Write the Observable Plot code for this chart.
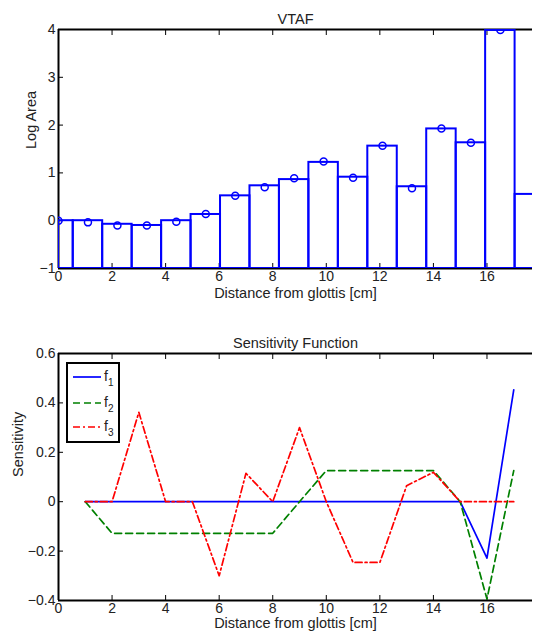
<!DOCTYPE html>
<html><head><meta charset="utf-8">
<script src="https://cdn.jsdelivr.net/npm/d3@7"></script>
<script src="https://cdn.jsdelivr.net/npm/@observablehq/plot@0.6"></script>
<style>
html,body{margin:0;padding:0;background:#fff;overflow:hidden}
#wrap{position:relative;width:533px;height:639px;font-family:"Liberation Sans",Arial,sans-serif}
.chart{position:absolute;left:0}
#legend{position:absolute;left:66px;top:362px}
</style></head><body>
<div id="wrap"><div id="top" class="chart" style="top:0"></div><div id="bottom" class="chart" style="top:320px"></div><div id="legend"></div></div>
<script>
// ---- VTAF data ----
const sectionCenters = [0, 1.1, 2.2, 3.3, 4.4, 5.5, 6.6, 7.7, 8.8, 9.9, 11.0, 12.1, 13.2, 14.3, 15.4, 16.5];
const sampledLogArea = [0, -0.035, -0.1, -0.1, -0.02, 0.14, 0.52, 0.70, 0.89, 1.24, 0.90, 1.57, 0.68, 1.93, 1.63, 3.99];
const barLeft  = [0, 0.55, 1.65, 2.75, 3.85, 4.95, 6.05, 7.15, 8.25, 9.35, 10.45, 11.55, 12.65, 13.75, 14.85, 15.95, 17.05];
const barRight = [0.55, 1.65, 2.75, 3.85, 4.95, 6.05, 7.15, 8.25, 9.35, 10.45, 11.55, 12.65, 13.75, 14.85, 15.95, 17.05, 18.15];
const barLogArea = [0, 0, -0.075, -0.1, 0, 0.13, 0.52, 0.73, 0.86, 1.22, 0.91, 1.56, 0.71, 1.92, 1.63, 3.98, 0.55];
const distanceTicks = [0, 2, 4, 6, 8, 10, 12, 14, 16];
const logAreaTicks = [-1, 0, 1, 2, 3, 4];

// ---- Sensitivity data ----
const positions = [1, 2, 3, 4, 5, 6, 7, 8, 9, 10, 11, 12, 13, 14, 15, 16, 17];
const f1 = [0, 0, 0, 0, 0, 0, 0, 0, 0, 0, 0, 0, 0, 0, 0, -0.228, 0.453];
const f2 = [0, -0.128, -0.128, -0.128, -0.128, -0.128, -0.128, -0.128, 0, 0.126, 0.126, 0.126, 0.126, 0.126, 0, -0.394, 0.126];
const f3 = [0, 0, 0.362, 0, 0, -0.3, 0.115, 0, 0.30, 0, -0.246, -0.246, 0.065, 0.119, 0, 0, 0];
const sensitivityTicks = [-0.4, -0.2, 0, 0.2, 0.4, 0.6];
const seriesNames = ["1", "2", "3"];
const seriesColors = ["#0000ff", "#008000", "#ff0000"];
const seriesDash = [null, "7,4", "7,3,2,3"];

const bars = barLeft.map((l, i) => ({x1: l, x2: barRight[i], v: barLogArea[i]}));
const samples = sectionCenters.map((x, i) => ({x, v: sampledLogArea[i]}));
const fmt = d3.format("");
const textColor = "#222";
const blank = () => "";

const topChart = Plot.plot({
  width: 533, height: 310,
  marginTop: 29, marginBottom: 42, marginLeft: 58, marginRight: 1,
  x: {domain: [0, 17.7], axis: null},
  y: {domain: [-1, 4], axis: null},
  style: {fontFamily: "Liberation Sans, Arial, sans-serif", fontSize: "14px", color: textColor, background: "white", overflow: "visible"},
  marks: [
    Plot.ruleX([0], {stroke: "#000", strokeWidth: 2}),
    Plot.ruleY([4], {stroke: "#000", strokeWidth: 2}),
    Plot.ruleY([-1], {stroke: "#000", strokeWidth: 2}),
    Plot.axisX(distanceTicks, {anchor: "bottom", tickSize: -5, tickFormat: blank, label: null, stroke: "#000"}),
    Plot.axisX(distanceTicks, {anchor: "top", tickSize: -5, tickFormat: blank, label: null, stroke: "#000"}),
    Plot.axisY(logAreaTicks, {anchor: "left", tickSize: -5, tickFormat: blank, label: null, stroke: "#000"}),
    Plot.rect(bars, {x1: "x1", x2: "x2", y1: -1, y2: "v", stroke: "#0000ff", fill: "none", strokeWidth: 2, clip: true}),
    Plot.dot(samples, {x: "x", y: "v", r: 3.5, stroke: "#0000ff", strokeWidth: 1.5, clip: true}),
    Plot.axisX(distanceTicks, {anchor: "bottom", tickSize: 0, tickPadding: 3, label: null, fill: textColor, tickFormat: fmt}),
    Plot.axisY(logAreaTicks, {anchor: "left", tickSize: 0, tickPadding: 3, label: null, fill: textColor, tickFormat: fmt}),
    Plot.text(["VTAF"], {text: d => d, frameAnchor: "top", dy: -16, fontSize: 14.5, fill: textColor}),
    Plot.text(["Distance from glottis [cm]"], {text: d => d, frameAnchor: "bottom", dy: 29, fontSize: 14.5, fill: textColor}),
    Plot.text(["Log Area"], {text: d => d, frameAnchor: "left", dx: -27, rotate: -90, fontSize: 14.5, fill: textColor})
  ]
});
document.getElementById("top").appendChild(topChart);

const series = [f1, f2, f3].flatMap((vals, k) => vals.map((v, i) => ({x: positions[i], v, k})));

const bottomChart = Plot.plot({
  width: 533, height: 319,
  marginTop: 33, marginBottom: 39, marginLeft: 58, marginRight: 1,
  x: {domain: [0, 17.7], axis: null},
  y: {domain: [-0.4, 0.6], axis: null},
  style: {fontFamily: "Liberation Sans, Arial, sans-serif", fontSize: "14px", color: textColor, background: "white", overflow: "visible"},
  marks: [
    Plot.ruleX([0], {stroke: "#000", strokeWidth: 2}),
    Plot.ruleY([0.6], {stroke: "#000", strokeWidth: 2}),
    Plot.ruleY([-0.4], {stroke: "#000", strokeWidth: 2}),
    Plot.axisX(distanceTicks, {anchor: "bottom", tickSize: -5, tickFormat: blank, label: null, stroke: "#000"}),
    Plot.axisX(distanceTicks, {anchor: "top", tickSize: -5, tickFormat: blank, label: null, stroke: "#000"}),
    Plot.axisY(sensitivityTicks, {anchor: "left", tickSize: -5, tickFormat: blank, label: null, stroke: "#000"}),
    ...[0, 1, 2].map(k => Plot.line(series.filter(d => d.k === k), {
      x: "x", y: "v", stroke: seriesColors[k], strokeWidth: 1.7, strokeDasharray: seriesDash[k]
    })),
    Plot.axisX(distanceTicks, {anchor: "bottom", tickSize: 0, tickPadding: 3, label: null, fill: textColor, tickFormat: fmt}),
    Plot.axisY(sensitivityTicks, {anchor: "left", tickSize: 0, tickPadding: 3, label: null, fill: textColor, tickFormat: fmt}),
    Plot.text(["Sensitivity Function"], {text: d => d, frameAnchor: "top", dy: -16, fontSize: 14.5, fill: textColor}),
    Plot.text(["Distance from glottis [cm]"], {text: d => d, frameAnchor: "bottom", dy: 27.5, fontSize: 14.5, fill: textColor}),
    Plot.text(["Sensitivity"], {text: d => d, frameAnchor: "left", dx: -40, rotate: -90, fontSize: 14.5, fill: textColor})
  ]
});
document.getElementById("bottom").appendChild(bottomChart);

// legend
const lg = d3.select("#legend").append("svg").attr("width", 56).attr("height", 84)
  .style("font-family", "Liberation Sans, Arial, sans-serif");
lg.append("rect").attr("x", 1).attr("y", 1).attr("width", 52).attr("height", 79)
  .attr("fill", "white").attr("stroke", "#000").attr("stroke-width", 2);
const rowY = [15, 41, 65];
seriesNames.forEach((name, k) => {
  lg.append("line").attr("x1", 7).attr("x2", 35).attr("y1", rowY[k]).attr("y2", rowY[k])
    .attr("stroke", seriesColors[k]).attr("stroke-width", 1.7)
    .attr("stroke-dasharray", seriesDash[k]);
  const t = lg.append("text").attr("x", 38).attr("y", rowY[k] + 4).attr("fill", textColor).style("font-size", "14px");
  t.append("tspan").text("f");
  t.append("tspan").attr("dy", 5).style("font-size", "10px").text(name);
});
</script>
</body></html>
